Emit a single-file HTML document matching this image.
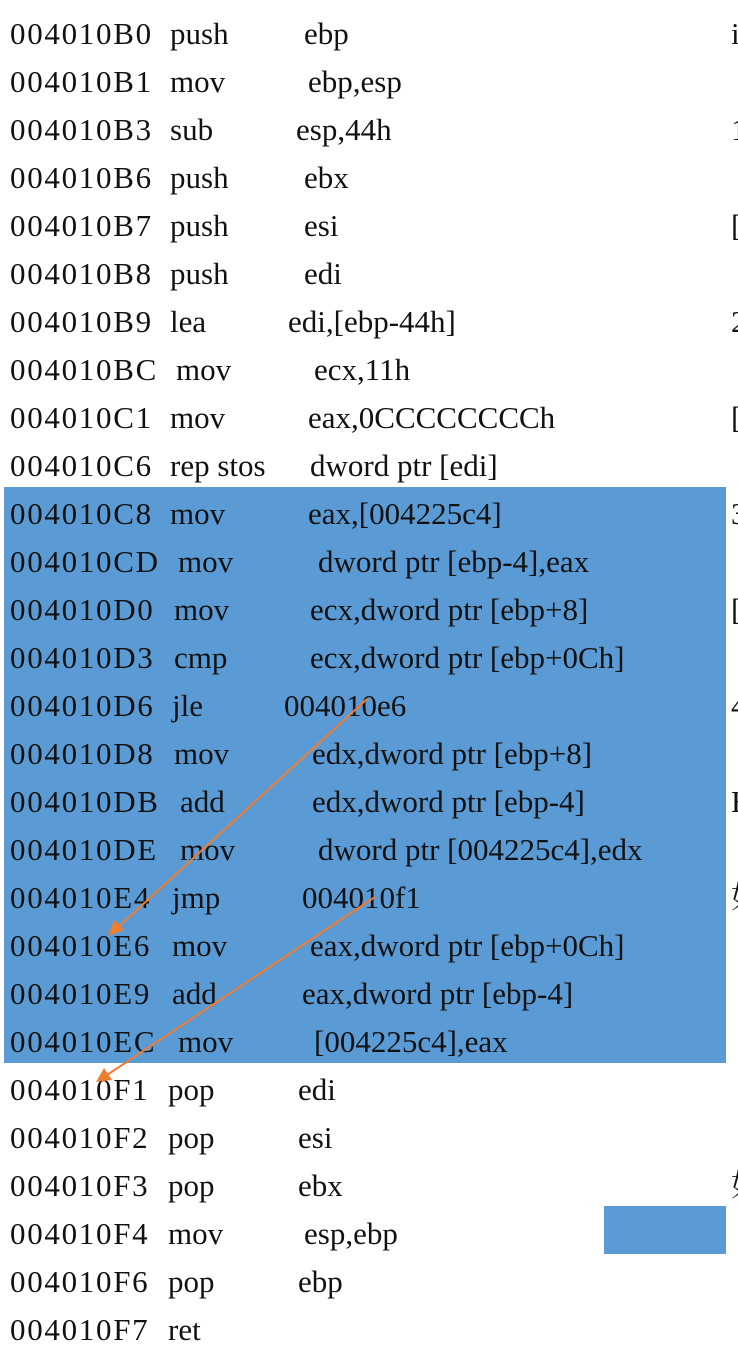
<!DOCTYPE html>
<html><head><meta charset="utf-8"><style>
body{margin:0;width:738px;height:1350px;background:#fff;position:relative;overflow:hidden;font-family:"Liberation Serif","Noto Serif CJK SC",serif;color:#111}
.r{position:absolute;left:0;height:30px;font-size:31px;line-height:30px;white-space:nowrap;margin-top:3px}
.r span{position:absolute;top:0}
.a{left:10px;letter-spacing:1.7px}
.box{position:absolute;background:#5b9bd5}
.e{position:absolute;left:731px;font-size:31px;line-height:30px;margin-top:3px}
</style></head><body>
<div class="box" style="left:4px;top:487px;width:722px;height:576px"></div>
<div class="box" style="left:604px;top:1206px;width:122px;height:48px"></div>
<div class="r" style="top:16px"><span class="a">004010B0</span><span style="left:170px">push</span><span style="left:304px">ebp</span></div>
<div class="r" style="top:64px"><span class="a">004010B1</span><span style="left:170px">mov</span><span style="left:308px">ebp,esp</span></div>
<div class="r" style="top:112px"><span class="a">004010B3</span><span style="left:170px">sub</span><span style="left:296px">esp,44h</span></div>
<div class="r" style="top:160px"><span class="a">004010B6</span><span style="left:170px">push</span><span style="left:304px">ebx</span></div>
<div class="r" style="top:208px"><span class="a">004010B7</span><span style="left:170px">push</span><span style="left:304px">esi</span></div>
<div class="r" style="top:256px"><span class="a">004010B8</span><span style="left:170px">push</span><span style="left:304px">edi</span></div>
<div class="r" style="top:304px"><span class="a">004010B9</span><span style="left:170px">lea</span><span style="left:288px">edi,[ebp-44h]</span></div>
<div class="r" style="top:352px"><span class="a">004010BC</span><span style="left:176px">mov</span><span style="left:314px">ecx,11h</span></div>
<div class="r" style="top:400px"><span class="a">004010C1</span><span style="left:170px">mov</span><span style="left:308px">eax,0CCCCCCCCh</span></div>
<div class="r" style="top:448px"><span class="a">004010C6</span><span style="left:170px">rep stos</span><span style="left:310px">dword ptr [edi]</span></div>
<div class="r" style="top:496px"><span class="a">004010C8</span><span style="left:170px">mov</span><span style="left:308px">eax,[004225c4]</span></div>
<div class="r" style="top:544px"><span class="a">004010CD</span><span style="left:178px">mov</span><span style="left:318px">dword ptr [ebp-4],eax</span></div>
<div class="r" style="top:592px"><span class="a">004010D0</span><span style="left:174px">mov</span><span style="left:310px">ecx,dword ptr [ebp+8]</span></div>
<div class="r" style="top:640px"><span class="a">004010D3</span><span style="left:174px">cmp</span><span style="left:310px">ecx,dword ptr [ebp+0Ch]</span></div>
<div class="r" style="top:688px"><span class="a">004010D6</span><span style="left:172px">jle</span><span style="left:284px">004010e6</span></div>
<div class="r" style="top:736px"><span class="a">004010D8</span><span style="left:174px">mov</span><span style="left:312px">edx,dword ptr [ebp+8]</span></div>
<div class="r" style="top:784px"><span class="a">004010DB</span><span style="left:180px">add</span><span style="left:312px">edx,dword ptr [ebp-4]</span></div>
<div class="r" style="top:832px"><span class="a">004010DE</span><span style="left:180px">mov</span><span style="left:318px">dword ptr [004225c4],edx</span></div>
<div class="r" style="top:880px"><span class="a">004010E4</span><span style="left:172px">jmp</span><span style="left:302px">004010f1</span></div>
<div class="r" style="top:928px"><span class="a">004010E6</span><span style="left:172px">mov</span><span style="left:310px">eax,dword ptr [ebp+0Ch]</span></div>
<div class="r" style="top:976px"><span class="a">004010E9</span><span style="left:172px">add</span><span style="left:302px">eax,dword ptr [ebp-4]</span></div>
<div class="r" style="top:1024px"><span class="a">004010EC</span><span style="left:178px">mov</span><span style="left:314px">[004225c4],eax</span></div>
<div class="r" style="top:1072px"><span class="a">004010F1</span><span style="left:168px">pop</span><span style="left:298px">edi</span></div>
<div class="r" style="top:1120px"><span class="a">004010F2</span><span style="left:168px">pop</span><span style="left:298px">esi</span></div>
<div class="r" style="top:1168px"><span class="a">004010F3</span><span style="left:168px">pop</span><span style="left:298px">ebx</span></div>
<div class="r" style="top:1216px"><span class="a">004010F4</span><span style="left:168px">mov</span><span style="left:304px">esp,ebp</span></div>
<div class="r" style="top:1264px"><span class="a">004010F6</span><span style="left:168px">pop</span><span style="left:298px">ebp</span></div>
<div class="r" style="top:1312px"><span class="a">004010F7</span><span style="left:168px">ret</span></div>
<div class="e" style="top:16px">i</div>
<div class="e" style="top:112px">1</div>
<div class="e" style="top:208px">[</div>
<div class="e" style="top:304px">2</div>
<div class="e" style="top:400px">[</div>
<div class="e" style="top:496px">3</div>
<div class="e" style="top:592px">[</div>
<div class="e" style="top:688px">4</div>
<div class="e" style="top:784px">E</div>
<div class="e" style="top:880px">如</div>
<div class="e" style="top:1168px">如</div>
<svg width="738" height="1350" style="position:absolute;left:0;top:0">
<g stroke="#ed7d31" stroke-width="2" fill="#ed7d31">
<line x1="367" y1="699" x2="116" y2="929"/>
<polygon points="108,936 114,920 124,930" stroke="none"/>
<line x1="375" y1="897" x2="104" y2="1077"/>
<polygon points="96,1082 104,1068 112,1080" stroke="none"/>
</g></svg>
</body></html>
